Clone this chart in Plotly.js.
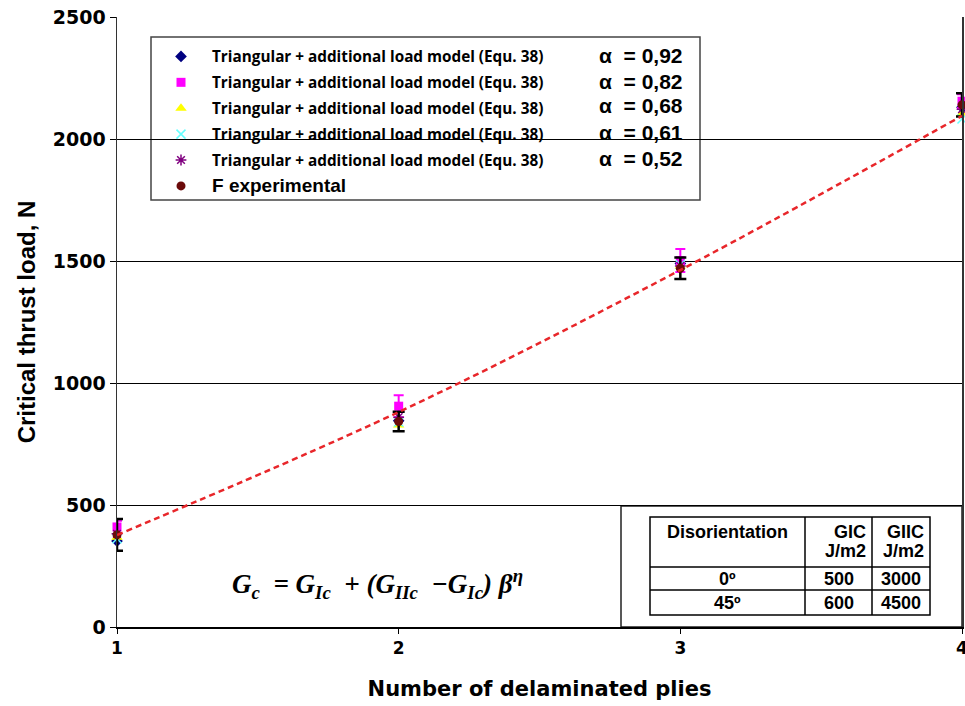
<!DOCTYPE html>
<html>
<head>
<meta charset="utf-8">
<script src="https://cdn.plot.ly/plotly-3.0.1.min.js"></script>
<style>html,body{margin:0;padding:0;background:#fff;}#chart{width:965px;height:706px;}</style>
</head>
<body>
<div id="chart"></div>
<script>
// ---- data ----
const plies = [1, 2, 3, 4];
const alpha092 = [352, 845, 1490, 2130];
const alpha082 = [410, 905, 1502, 2155];
const alpha082Err = [25, 45, 47, 28];
const alpha068 = [368, 828, 1480, 2105];
const alpha061 = [362, 840, 1485, 2082];
const alpha052 = [382, 860, 1480, 2122];
const experimental = [378, 842, 1470, 2140];
const experimentalErr = [65, 40, 44, 48];
const trendValues = [377, 881, 1463, 2095];

const modelName = "Triangular + additional load model (Equ. 38)";
const alphaLabels = ["\u03b1  = 0,92", "\u03b1  = 0,82", "\u03b1  = 0,68", "\u03b1  = 0,61", "\u03b1  = 0,52"];
const expName = "F experimental";

const yTicks = [0, 500, 1000, 1500, 2000, 2500];
const xTicks = [1, 2, 3, 4];

const tableHeader = ["Disorientation", "GIC<br>J/m2", "GIIC<br>J/m2"];
const tableDisorientation = ["0\u00ba", "45\u00ba"];
const tableGIC = ["500", "600"];
const tableGIIC = ["3000", "4500"];

// ---- layout helpers (pixel -> paper) ----
const W = 965, H = 706, mL = 117, mR = 3, mT = 17, mB = 79;
const pw = W - mL - mR, ph = H - mT - mB;
const px = v => (v - mL) / pw;
const py = v => (H - mB - v) / ph;

const legendFont = {family: "Open Sans", size: 15.3, color: "#000", weight: "bold"};

function modelTrace(y, i, marker, err) {
  const t = {
    x: plies, y: y, type: "scatter", mode: "markers",
    name: modelName, legendgroup: "g" + i, marker: marker, cliponaxis: false
  };
  if (err) t.error_y = {type: "data", array: err, visible: true, color: "#FF00FF", thickness: 2, width: 5};
  return t;
}

const traces = [
  modelTrace(alpha092, 0, {symbol: "diamond", color: "#000080", size: 9}),
  modelTrace(alpha082, 1, {symbol: "square", color: "#FF00FF", size: 9}, alpha082Err),
  modelTrace(alpha068, 2, {symbol: "triangle-up", color: "#FFFF00", size: 10}),
  modelTrace(alpha061, 3, {symbol: "x-thin-open", color: "#66FFFF", size: 9, line: {color: "#66FFFF", width: 1.5}}),
  modelTrace(alpha052, 4, {symbol: "asterisk-open", color: "#800080", size: 9, line: {color: "#800080", width: 1.5}}),
  {
    x: plies, y: experimental, type: "scatter", mode: "markers",
    name: '<span style="font-family:Liberation Sans;font-size:19px">' + expName + '</span>',
    legendgroup: "g5", cliponaxis: false,
    marker: {symbol: "circle", color: "#6B0A0A", size: 9},
    error_y: {type: "data", array: experimentalErr, visible: true, color: "#000", thickness: 2.5, width: 6}
  },
  {
    x: plies, y: trendValues, type: "scatter", mode: "lines", showlegend: false,
    line: {color: "#E8262A", width: 2.5, dash: "6px,4px", shape: "spline"}, cliponaxis: false, hoverinfo: "skip"
  }
];

const annotations = alphaLabels.map((t, i) => ({
  text: t, xref: "paper", yref: "paper", x: px(597), y: py([55, 81, 106, 132, 158][i]),
  xanchor: "left", yanchor: "middle", showarrow: false,
  font: {family: "Liberation Sans", size: 21, color: "#000", weight: "bold"}
}));
annotations.push({
  text: "<b><i>G<sub>c</sub>  = G<sub>Ic</sub>  + (G<sub>IIc</sub>  \u2212G<sub>Ic</sub>) \u03b2<sup>\u03b7</sup></i></b>",
  xref: "paper", yref: "paper", x: px(377), y: py(584), xanchor: "center", yanchor: "middle",
  showarrow: false, font: {family: "Liberation Serif", size: 27, color: "#000"}
});

// ---- table (cells built from the arrays above) ----
const colEdges = [650, 805, 872, 930];
const rowEdges = [517, 567, 590, 615];
const tableFont = {family: "Liberation Sans", size: 18, color: "#000", weight: "bold"};
const tableColumns = [tableDisorientation, tableGIC, tableGIIC];
tableHeader.forEach((h, c) => {
  const lines = h.split("<br>");
  lines.forEach((ln, k) => {
    annotations.push({
      text: ln, xref: "paper", yref: "paper", showarrow: false,
      x: px(c === 0 ? (colEdges[0] + colEdges[1]) / 2 : colEdges[c + 1] - 4),
      xanchor: c === 0 ? "center" : "right",
      y: py(rowEdges[0] + 15 + k * 19), yanchor: "middle", font: tableFont
    });
  });
  tableColumns[c].forEach((v, r) => {
    annotations.push({
      text: v, xref: "paper", yref: "paper", showarrow: false,
      x: px((colEdges[c] + colEdges[c + 1]) / 2), xanchor: "center",
      y: py((rowEdges[r + 1] + rowEdges[r + 2]) / 2), yanchor: "middle", font: tableFont
    });
  });
});

const shapes = [
  {type: "rect", xref: "paper", yref: "paper", x0: px(151), x1: px(700), y0: py(200), y1: py(37),
    line: {color: "#444", width: 1.5}, fillcolor: "#fff", layer: "between"},
  {type: "rect", xref: "paper", yref: "paper", x0: px(621), x1: 1, y0: 0, y1: py(506),
    line: {color: "#222", width: 1.5}, fillcolor: "#fff", layer: "between"},
  {type: "rect", xref: "paper", yref: "paper", x0: px(colEdges[0]), x1: px(colEdges[3]),
    y0: py(rowEdges[3]), y1: py(rowEdges[0]), line: {color: "#000", width: 1.5}, layer: "above"}
];
[1, 2].forEach(c => shapes.push({type: "line", xref: "paper", yref: "paper",
  x0: px(colEdges[c]), x1: px(colEdges[c]), y0: py(rowEdges[3]), y1: py(rowEdges[0]),
  line: {color: "#000", width: 1.5}, layer: "above"}));
[1, 2].forEach(r => shapes.push({type: "line", xref: "paper", yref: "paper",
  x0: px(colEdges[0]), x1: px(colEdges[3]), y0: py(rowEdges[r]), y1: py(rowEdges[r]),
  line: {color: "#000", width: 1.5}, layer: "above"}));

const layout = {
  width: W, height: H,
  margin: {l: mL, r: mR, t: mT, b: mB},
  paper_bgcolor: "#fff", plot_bgcolor: "#fff",
  showlegend: true,
  legend: {
    x: px(150), y: py(40), xanchor: "left", yanchor: "top",
    bgcolor: "rgba(0,0,0,0)", borderwidth: 0,
    font: legendFont, itemwidth: 52, tracegroupgap: 3, traceorder: "grouped"
  },
  xaxis: {
    range: [1, 4], tickvals: xTicks, ticktext: xTicks.map(String),
    showgrid: false, zeroline: false, showline: true, linecolor: "#000", linewidth: 1.5,
    ticks: "outside", ticklen: 5, tickcolor: "#000", ticklabeloverflow: "allow",
    tickfont: {family: "DejaVu Sans", size: 17, color: "#000", weight: "bold"},
    title: {text: "Number of delaminated plies", standoff: 24,
      font: {family: "DejaVu Sans", size: 21, color: "#000", weight: "bold"}}
  },
  yaxis: {
    range: [0, 2500], tickvals: yTicks,
    showgrid: true, gridcolor: "#000", gridwidth: 1, zeroline: false,
    showline: true, linecolor: "#333", linewidth: 1.5, mirror: true,
    ticks: "outside", ticklen: 6, tickcolor: "#000",
    tickfont: {family: "DejaVu Sans", size: 19, color: "#000", weight: "bold"},
    title: {text: "Critical thrust load, N", standoff: 10,
      font: {family: "Liberation Sans", size: 24, color: "#000", weight: "bold"}}
  },
  shapes: shapes,
  annotations: annotations
};

Plotly.newPlot("chart", traces, layout, {displayModeBar: false, staticPlot: true});
</script>
</body>
</html>
